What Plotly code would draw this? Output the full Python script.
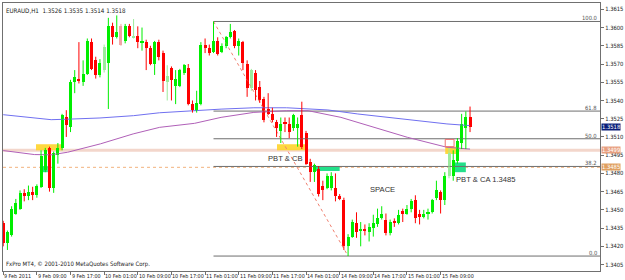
import plotly.graph_objects as go

# ---------------- data (EURAUD H1) ----------------
opens = [1.3439,1.3423,1.3429,1.3447,1.3451,1.3464,1.3461,1.3465,1.3462,1.3469,
         1.3483,1.3501,1.3468,1.3495,1.3501,1.3526,1.3518,1.3555,1.3558,1.3555,
         1.3562,1.3588,1.3573,1.3561,1.3565,1.3571,1.3601,1.3592,1.3601,1.3589,
         1.3601,1.3592,1.3593,1.3587,1.3588,1.3583,1.3570,1.3588,1.3579,1.3555,
         1.3567,1.3552,1.3552,1.3563,1.3567,1.3537,1.3531,1.3537,1.3586,1.3583,
         1.3580,1.3589,1.3580,1.3585,1.3592,1.3597,1.3585,1.3588,1.3570,1.3550,
         1.3563,1.3551,1.3541,1.3533,1.3529,1.3522,1.3515,1.3522,1.3521,1.3517,
         1.3517,1.3528,1.3513,1.3489,1.3481,1.3484,1.3470,1.3468,1.3468,1.3468,
         1.3461,1.3458,1.3420,1.3428,1.3439,1.3433,1.3434,1.3432,1.3435,1.3438,
         1.3443,1.3442,1.3431,1.3441,1.3439,1.3449,1.3447,1.3451,1.3458,1.3447,
         1.3444,1.3447,1.3448,1.3460,1.3465,1.3458,1.3478,1.3478,1.3490,1.3505,
         1.3517,1.3526]
highs = [1.3441,1.3433,1.3453,1.3459,1.3466,1.3467,1.3470,1.3469,1.3471,1.3499,
         1.3501,1.3502,1.3498,1.3505,1.3529,1.3532,1.3557,1.3565,1.3588,1.3573,
         1.3591,1.3591,1.3576,1.3574,1.3586,1.3608,1.3604,1.3610,1.3603,1.3603,
         1.3603,1.3607,1.3601,1.3600,1.3590,1.3585,1.3589,1.3590,1.3581,1.3569,
         1.3568,1.3565,1.3566,1.3570,1.3570,1.3540,1.3548,1.3588,1.3591,1.3586,
         1.3605,1.3592,1.3587,1.3593,1.3603,1.3598,1.3591,1.3589,1.3573,1.3566,
         1.3565,1.3556,1.3543,1.3546,1.3534,1.3524,1.3526,1.3526,1.3526,1.3529,
         1.3526,1.3539,1.3515,1.3492,1.3488,1.3486,1.3474,1.3480,1.3481,1.3480,
         1.3463,1.3460,1.3430,1.3442,1.3448,1.3440,1.3438,1.3439,1.3446,1.3451,
         1.3453,1.3447,1.3442,1.3443,1.3450,1.3451,1.3454,1.3459,1.3462,1.3450,
         1.3450,1.3451,1.3459,1.3474,1.3466,1.3481,1.3501,1.3499,1.3509,1.3529,
         1.3531,1.3535]
lows = [1.3420,1.3417,1.3428,1.3446,1.3450,1.3457,1.3458,1.3458,1.3460,1.3468,
        1.3481,1.3465,1.3464,1.3488,1.3499,1.3510,1.3514,1.3546,1.3554,1.3552,
        1.3561,1.3565,1.3558,1.3559,1.3563,1.3533,1.3586,1.3591,1.3585,1.3587,
        1.3592,1.3591,1.3583,1.3581,1.3565,1.3569,1.3561,1.3573,1.3547,1.3540,
        1.3540,1.3537,1.3551,1.3561,1.3536,1.3530,1.3530,1.3536,1.3579,1.3577,
        1.3579,1.3577,1.3579,1.3583,1.3591,1.3583,1.3577,1.3565,1.3543,1.3548,
        1.3540,1.3538,1.3522,1.3528,1.3522,1.3510,1.3505,1.3514,1.3509,1.3515,
        1.3502,1.3500,1.3487,1.3473,1.3473,1.3461,1.3458,1.3467,1.3466,1.3457,
        1.3458,1.3417,1.3412,1.3427,1.3427,1.3420,1.3429,1.3424,1.3428,1.3436,
        1.3442,1.3429,1.3429,1.3436,1.3438,1.3440,1.3446,1.3448,1.3439,1.3438,
        1.3443,1.3442,1.3447,1.3458,1.3447,1.3454,1.3476,1.3474,1.3488,1.3500,
        1.3500,1.3514]
closes = [1.3423,1.3432,1.3451,1.3456,1.3464,1.3461,1.3465,1.3462,1.3470,1.3494,
          1.3499,1.3468,1.3497,1.3501,1.3528,1.3520,1.3555,1.3559,1.3556,1.3562,
          1.3589,1.3566,1.3561,1.3571,1.3584,1.3601,1.3592,1.3596,1.3586,1.3601,
          1.3593,1.3593,1.3588,1.3589,1.3583,1.3570,1.3588,1.3576,1.3556,1.3560,
          1.3557,1.3558,1.3565,1.3569,1.3537,1.3532,1.3538,1.3586,1.3583,1.3579,
          1.3589,1.3578,1.3585,1.3592,1.3596,1.3585,1.3589,1.3571,1.3550,1.3565,
          1.3549,1.3540,1.3524,1.3529,1.3524,1.3517,1.3521,1.3521,1.3514,1.3528,
          1.3521,1.3502,1.3488,1.3481,1.3487,1.3463,1.3466,1.3478,1.3478,1.3461,
          1.3459,1.3420,1.3428,1.3440,1.3432,1.3434,1.3433,1.3436,1.3439,1.3443,
          1.3447,1.3431,1.3440,1.3439,1.3446,1.3447,1.3451,1.3457,1.3443,1.3444,
          1.3447,1.3448,1.3458,1.3466,1.3458,1.3478,1.3497,1.3491,1.3507,1.3521,
          1.3526,1.3518]
faded = [24, 28, 31, 39, 59, 106]

date_ticks = [0, 8, 16, 24, 32, 40, 48, 56, 64, 72, 80, 88, 96, 104]
date_labels = ["9 Feb 2011", "9 Feb 09:00", "9 Feb 17:00", "10 Feb 01:00", "10 Feb 09:00",
               "10 Feb 17:00", "11 Feb 01:00", "11 Feb 09:00", "11 Feb 17:00", "14 Feb 01:00",
               "14 Feb 09:00", "14 Feb 17:00", "15 Feb 01:00", "15 Feb 09:00"]
price_ticks = [1.3405, 1.3420, 1.3435, 1.3450, 1.3465, 1.3480, 1.3495, 1.3510,
               1.3525, 1.3540, 1.3555, 1.3570, 1.3585, 1.3600, 1.3615]

# moving averages (sampled)
ma_blue_x = [0, 7.4, 11.4, 15.3, 23, 31, 37.2, 51.8, 59.6, 67.4, 73.7, 77.2, 84.3, 96.1, 105.5, 111]
ma_blue_y = [1.35283, 1.3526, 1.35242, 1.35246, 1.35256, 1.35275, 1.35299, 1.35329, 1.3534,
             1.3534, 1.35331, 1.35322, 1.35289, 1.3524, 1.35207, 1.35193]
ma_purple_x = [0, 7.4, 11.4, 15.3, 23.1, 30.9, 37.2, 45.5, 51.8, 59.6, 67.4, 72.5, 80.3, 88.3, 96.1, 105.5, 111]
ma_purple_y = [1.34988, 1.34955, 1.34953, 1.34974, 1.35043, 1.35125, 1.35179, 1.35212, 1.35261,
               1.35302, 1.35316, 1.35316, 1.35261, 1.35179, 1.35097, 1.35015, 1.35]

fib_hi_bar, fib_lo_bar = 50, 82
fib_levels = [0.0, 38.2, 50.0, 61.8, 100.0]
last_price = 1.3518
level_pink = 1.3499
level_orange = 1.3485

# zones: (bar start, bar end, price low, price high)
yellow_zones = [(7.8, 14.1, 1.3499, 1.3504), (65.1, 71.8, 1.3499, 1.3504), (105.1, 107.8, 1.3496, 1.3502)]
green_zones = [(9.0, 10.6, 1.3481, 1.3486), (74.1, 80.0, 1.3482, 1.3486), (106.9, 110.0, 1.3481, 1.3489)]
red_box = (105.1, 107.2, 1.3502, 1.3508)

# ---------------- figure ----------------
GREEN, RED = "#00EE00", "#FF0000"
LGREEN, PINK = "#9CEB9C", "#F2A5A5"
SMALL = "DejaVu Sans Condensed, Liberation Sans, sans-serif"
n = len(opens)
idx = list(range(n))
body_col, wick_groups = [], {GREEN: ([], []), RED: ([], []), LGREEN: ([], []), PINK: ([], [])}
for i in idx:
    up = closes[i] >= opens[i]
    if i in faded:
        c = LGREEN if up else PINK
    else:
        c = GREEN if up else RED
    body_col.append(c)
    wx, wy = wick_groups[c]
    wx += [i, i, None]
    wy += [lows[i], highs[i], None]

fig = go.Figure()

hi = highs[fib_hi_bar]
lo = lows[fib_lo_bar]
XMAX = 141.9

# full-width horizontal levels
fig.add_shape(type="line", xref="paper", x0=0, x1=1, y0=level_pink, y1=level_pink,
              line=dict(color="#F3D6CB", width=3), layer="below")
fig.add_shape(type="line", xref="paper", x0=0, x1=1, y0=level_orange, y1=level_orange,
              line=dict(color="#F2B27E", width=1, dash="dot"), layer="below")

for (x0, x1, y0, y1) in yellow_zones:
    fig.add_shape(type="rect", x0=x0, x1=x1, y0=y0, y1=y1, fillcolor="#FFD42A",
                  line=dict(width=0), layer="below", opacity=0.9)
for (x0, x1, y0, y1) in green_zones:
    fig.add_shape(type="rect", x0=x0, x1=x1, y0=y0, y1=y1, fillcolor="#22E08A",
                  line=dict(width=0), layer="below")
fig.add_shape(type="rect", x0=red_box[0], x1=red_box[1], y0=red_box[2], y1=red_box[3],
              line=dict(color="#F07070", width=1))

# fibo lines
for lv in fib_levels:
    p = lo + (hi - lo) * lv / 100.0
    fig.add_trace(go.Scatter(x=[fib_hi_bar, XMAX], y=[p, p], mode="lines",
                             line=dict(color="#6E6E6E", width=1), hoverinfo="skip"))
    fig.add_annotation(x=1, xref="paper", y=p, yref="y", text=f"{lv:.1f}", showarrow=False,
                       xanchor="right", yanchor="bottom", xshift=-1, yshift=-2,
                       font=dict(size=5.8, color="#555", family=SMALL))
fig.add_trace(go.Scatter(x=[fib_hi_bar, fib_lo_bar], y=[hi, lo], mode="lines",
                         line=dict(color="#F08070", width=1, dash="dot"), hoverinfo="skip"))

# moving averages
fig.add_trace(go.Scatter(x=ma_blue_x, y=ma_blue_y, mode="lines",
                         line=dict(color="#7070F0", width=1), hoverinfo="skip"))
fig.add_trace(go.Scatter(x=ma_purple_x, y=ma_purple_y, mode="lines",
                         line=dict(color="#B060B8", width=1), hoverinfo="skip"))

# candles
for c, (wx, wy) in wick_groups.items():
    fig.add_trace(go.Scatter(x=wx, y=wy, mode="lines", line=dict(color=c, width=1),
                             hoverinfo="skip"))
fig.add_trace(go.Bar(x=idx, base=[min(o, c) for o, c in zip(opens, closes)],
                     y=[max(abs(c - o), 0.00008) for o, c in zip(opens, closes)],
                     width=0.72, marker=dict(color=body_col, line=dict(width=0))))

# texts
txt_font = dict(size=7.6, color="#333", family="Liberation Sans")
fig.add_annotation(x=66.9, y=1.3492, text="PBT & CB", showarrow=False, xanchor="center", font=txt_font)
fig.add_annotation(x=90.2, y=1.3467, text="SPACE", showarrow=False, xanchor="center", font=txt_font)
fig.add_annotation(x=107.3, y=1.3475, text=f"PBT & CA {level_orange:.4f}", showarrow=False,
                   xanchor="left", font=txt_font)
fig.add_annotation(x=0, xref="paper", y=1, yref="paper", text="EURAUD,H1  1.3526 1.3535 1.3514 1.3518",
                   showarrow=False, xanchor="left", yanchor="top", xshift=1, yshift=-2,
                   font=dict(size=6.2, color="#222", family=SMALL))
fig.add_annotation(x=0, xref="paper", y=0, yref="paper",
                   text="FxPro MT4, © 2001-2010 MetaQuotes Software Corp.",
                   showarrow=False, xanchor="left", yanchor="bottom", xshift=1, yshift=1,
                   font=dict(size=6.0, color="#222", family=SMALL))
for t, lab in zip(date_ticks, date_labels):
    fig.add_annotation(x=t, y=0, yref="paper", text=lab, showarrow=False, xanchor="left",
                       yanchor="top", xshift=-1, yshift=0,
                       font=dict(size=5.4, color="#222", family=SMALL))

# axis price boxes
for val, bg, fc in [(last_price, "#0A1E78", "white"), (level_pink, "#E8A080", "white"),
                    (level_orange, "#E0A060", "white")]:
    fig.add_annotation(x=1, xref="paper", y=val, yref="y", text=f"{val:.4f}", showarrow=False,
                       xanchor="left", xshift=1, bgcolor=bg, borderpad=0,
                       font=dict(size=5.8, color=fc, family=SMALL))

fig.update_layout(
    width=625, height=280, margin=dict(l=2, r=20, t=2, b=9),
    paper_bgcolor="white", plot_bgcolor="white", showlegend=False,
    bargap=0,
    xaxis=dict(range=[-0.05, XMAX], showgrid=False, zeroline=False, showline=True, mirror=True,
               linecolor="#707070", linewidth=1, tickmode="array", tickvals=date_ticks,
               ticks="outside", ticklen=3, tickcolor="#707070", showticklabels=False,
               fixedrange=True),
    yaxis=dict(range=[1.33997, 1.36202], side="right", showgrid=False, zeroline=False,
               showline=True, mirror=True, linecolor="#707070", linewidth=1,
               tickmode="array", tickvals=price_ticks, tickformat=".4f",
               ticks="outside", ticklen=3, tickcolor="#707070",
               tickfont=dict(size=5.8, color="#222", family=SMALL)),
)

fig.write_html("out.html")
